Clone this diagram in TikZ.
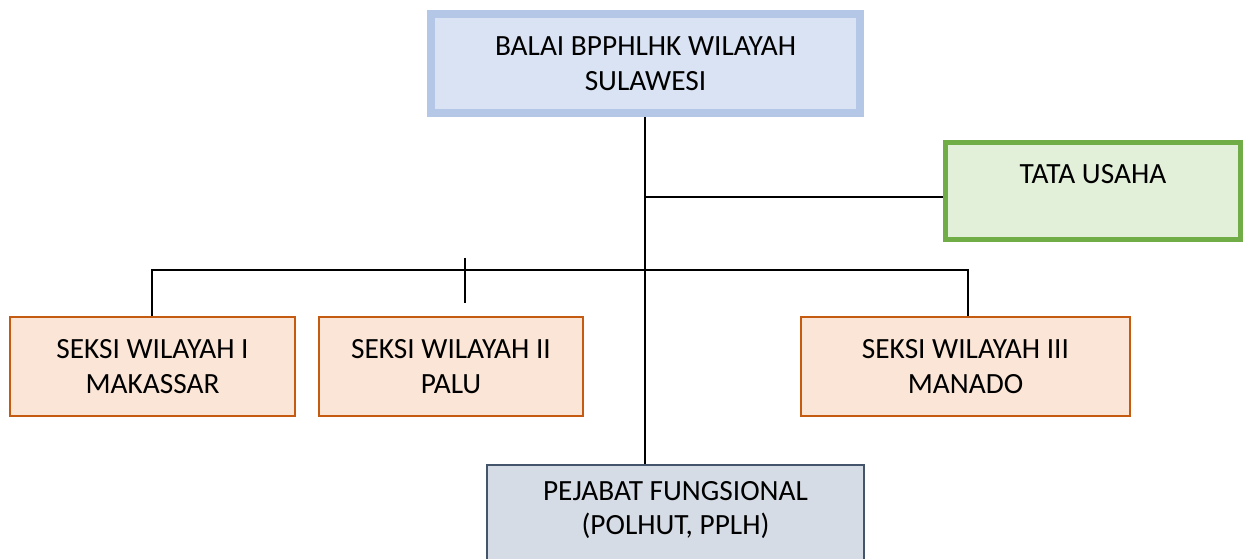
\documentclass[tikz,border=0pt]{standalone}
\usepackage{fontspec}
\setmainfont{Carlito}
\usepackage{tikz}
\usetikzlibrary{positioning, calc}
\definecolor{headfill}{HTML}{DAE3F3}
\definecolor{headline}{HTML}{B4C7E7}
\definecolor{tufill}{HTML}{E2F0D9}
\definecolor{tuline}{HTML}{70AD47}
\definecolor{sectfill}{HTML}{FBE5D6}
\definecolor{sectline}{HTML}{C55A11}
\definecolor{funcfill}{HTML}{D6DCE5}
\definecolor{funcline}{HTML}{44546A}
\tikzstyle{box}  = [rectangle, align=center, text=black,
                    font=\fontsize{22}{26}\selectfont]
\tikzstyle{link} = [line width=1.5pt, black]

\begin{document}
\begin{tikzpicture}[x=0.75pt, y=-0.75pt,
    head/.style={box, draw=headline, fill=headfill, line width=6pt,
                 minimum width=321.75pt, minimum height=74.25pt},
    unit/.style={box, draw=tuline, fill=tufill, line width=4pt,
                 minimum width=221.25pt, minimum height=72.75pt},
    sect/.style={box, draw=sectline, fill=sectfill, line width=1.5pt,
                 minimum height=74.25pt},
    func/.style={box, draw=funcline, fill=funcfill, line width=1.5pt,
                 minimum width=282.75pt, minimum height=116.25pt}]

  \useasboundingbox (0,0) rectangle (1246,559);

  \node[head] (balai) at (645.5, 63.5)  {BALAI BPPHLHK WILAYAH\\SULAWESI};
  \node[unit] (tu)    at (1093, 191)    {TATA USAHA\\~};
  \node[sect, minimum width=213.75pt] (s1) at (152.5, 366.5) {SEKSI WILAYAH I\\MAKASSAR};
  \node[sect, minimum width=198pt]    (s2) at (451, 366.5)   {SEKSI WILAYAH II\\PALU};
  \node[sect, minimum width=246.75pt] (s3) at (965.5, 366.5) {SEKSI WILAYAH III\\MANADO};
  \node[func] (fung)  at (675.5, 542.5) {PEJABAT FUNGSIONAL\\(POLHUT, PPLH)\\~\\~};

  \coordinate (trunk) at (645, 197);
  \coordinate (busL)  at (152, 270);
  \coordinate (busR)  at (968, 270);
  \coordinate (tickA) at (465, 258);
  \coordinate (tickB) at (465, 303);

  \draw[link] (balai.south -| trunk) -- (fung.north -| trunk);
  \draw[link] (trunk) -- (trunk -| tu.west);
  \draw[link] (s1.north -| busL) -- (busL) -- (busR) -- (s3.north -| busR);
  \draw[link] (tickA) -- (tickB);
\end{tikzpicture}
\end{document}
